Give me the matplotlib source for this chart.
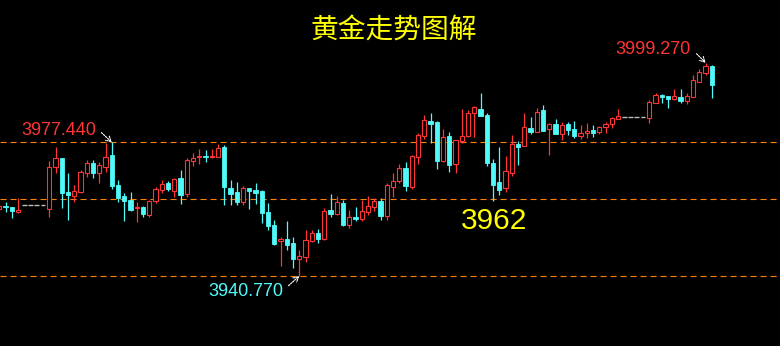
import numpy as np
import matplotlib.pyplot as plt

# gold candles (open, high, low, close)
opens = [3959.2, 3960.0, 3959.7, 3958.4, 3960.2, 3960.2, 3960.2, 3960.2, 3959.1, 3970.8,
         3973.1, 3963.7, 3962.8, 3963.9, 3969.1, 3971.7, 3969.1, 3970.8, 3974.0, 3965.7,
         3962.7, 3961.6, 3959.3, 3959.8, 3957.5, 3961.4, 3964.4, 3966.2, 3964.2, 3967.6,
         3963.3, 3972.4, 3973.3, 3973.6, 3973.3, 3973.5, 3976.1, 3964.8, 3963.7, 3961.2,
         3964.8, 3964.4, 3964.1, 3958.4, 3954.8, 3950.3, 3950.9, 3949.9, 3945.4, 3945.9,
         3950.5, 3952.5, 3950.9, 3958.9, 3957.8, 3960.9, 3954.8, 3957.0, 3956.4, 3958.4,
         3959.8, 3961.4, 3957.2, 3965.3, 3966.7, 3970.3, 3965.3, 3973.3, 3979.2, 3983.3,
         3983.0, 3972.4, 3979.2, 3971.4, 3977.9, 3979.2, 3985.4, 3986.6, 3985.0, 3971.7,
         3966.5, 3965.0, 3969.1, 3977.0, 3976.5, 3981.3, 3980.4, 3986.3, 3981.1, 3982.5,
         3979.7, 3982.5, 3981.0, 3979.2, 3979.9, 3980.9, 3980.4, 3981.6, 3982.4, 3983.8,
         3984.3, 3984.3, 3984.3, 3984.3, 3984.2, 3988.3, 3990.4, 3990.1, 3989.2, 3989.9,
         3988.8, 3990.0, 3994.1, 3996.5, 3998.4]
highs = [3960.5, 3961.2, 3959.7, 3962.2, 3960.2, 3960.2, 3960.2, 3960.2, 3972.3, 3976.1,
         3973.2, 3968.9, 3965.7, 3969.8, 3972.6, 3972.6, 3972.0, 3977.2, 3977.44, 3967.1,
         3963.5, 3963.9, 3961.2, 3960.0, 3961.6, 3965.3, 3967.1, 3966.8, 3967.7, 3969.8,
         3973.1, 3974.4, 3975.6, 3975.3, 3975.6, 3977.0, 3976.7, 3967.1, 3966.6, 3965.5,
         3964.9, 3966.4, 3964.4, 3960.9, 3956.1, 3951.6, 3955.9, 3951.6, 3947.9, 3953.4,
         3953.4, 3953.7, 3959.3, 3963.3, 3962.7, 3961.6, 3958.9, 3959.8, 3961.6, 3962.7,
         3962.1, 3962.1, 3966.4, 3969.1, 3971.5, 3972.0, 3974.0, 3979.9, 3984.9, 3985.6,
         3983.2, 3981.0, 3980.3, 3978.1, 3986.6, 3986.3, 3987.4, 3991.0, 3985.4, 3972.9,
         3976.2, 3973.7, 3979.5, 3977.8, 3985.4, 3984.5, 3986.8, 3987.7, 3982.6, 3983.8,
         3983.1, 3983.1, 3983.3, 3982.2, 3982.7, 3982.2, 3982.0, 3983.1, 3984.5, 3986.6,
         3984.3, 3984.3, 3984.3, 3984.3, 3989.0, 3990.9, 3990.7, 3990.2, 3992.1, 3992.1,
         3990.9, 3995.9, 3997.5, 3999.27, 3998.6]
lows = [3958.9, 3958.4, 3956.8, 3958.1, 3960.2, 3960.2, 3960.2, 3960.2, 3957.0, 3968.9,
        3959.3, 3956.1, 3961.2, 3963.6, 3968.0, 3967.6, 3966.4, 3969.4, 3964.6, 3961.2,
        3955.9, 3958.6, 3955.7, 3957.0, 3957.0, 3960.7, 3963.6, 3964.1, 3962.5, 3960.5,
        3962.5, 3971.0, 3971.4, 3972.1, 3973.1, 3973.4, 3960.2, 3960.2, 3960.2, 3960.2,
        3959.2, 3960.5, 3955.4, 3953.4, 3949.4, 3943.5, 3947.9, 3943.0, 3940.77, 3944.7,
        3950.2, 3949.9, 3950.6, 3957.0, 3957.6, 3954.6, 3953.9, 3955.9, 3955.9, 3957.5,
        3958.7, 3956.1, 3956.1, 3962.5, 3966.4, 3964.2, 3964.6, 3971.5, 3978.3, 3977.2,
        3970.1, 3971.9, 3969.4, 3969.1, 3977.2, 3979.0, 3979.0, 3984.6, 3971.0, 3961.4,
        3963.0, 3963.8, 3968.2, 3971.2, 3976.4, 3979.7, 3980.3, 3980.5, 3974.0, 3979.6,
        3978.1, 3979.5, 3978.5, 3978.4, 3978.5, 3978.8, 3979.7, 3979.9, 3981.3, 3983.7,
        3984.3, 3984.3, 3984.3, 3984.3, 3982.8, 3988.2, 3988.3, 3986.8, 3989.1, 3988.3,
        3987.9, 3989.9, 3994.0, 3995.9, 3989.7]
closes = [3960.0, 3959.6, 3958.6, 3958.9, 3960.2, 3960.2, 3960.2, 3960.2, 3970.8, 3973.1,
          3963.4, 3963.0, 3964.1, 3969.2, 3971.7, 3969.1, 3971.2, 3973.3, 3965.5, 3962.2,
          3961.4, 3958.9, 3959.8, 3957.8, 3961.4, 3964.6, 3965.9, 3964.6, 3967.4, 3963.0,
          3972.6, 3973.1, 3973.6, 3973.3, 3973.6, 3976.0, 3965.3, 3963.3, 3961.2, 3964.8,
          3964.1, 3963.6, 3958.1, 3954.5, 3949.6, 3950.9, 3949.3, 3945.4, 3946.3, 3950.6,
          3952.5, 3950.9, 3958.6, 3957.8, 3961.1, 3954.8, 3956.9, 3956.4, 3958.6, 3960.0,
          3961.4, 3957.2, 3965.7, 3966.7, 3970.3, 3965.5, 3973.7, 3979.4, 3983.5, 3982.5,
          3972.4, 3978.8, 3971.2, 3978.0, 3979.2, 3985.5, 3987.0, 3984.7, 3971.7, 3965.7,
          3964.4, 3969.6, 3976.9, 3976.2, 3981.6, 3980.4, 3985.8, 3980.6, 3982.4, 3979.7,
          3982.2, 3980.8, 3979.2, 3980.0, 3980.5, 3980.1, 3981.6, 3982.5, 3984.0, 3984.6,
          3984.3, 3984.3, 3984.3, 3984.3, 3988.6, 3990.4, 3989.9, 3989.4, 3990.1, 3988.8,
          3990.1, 3994.5, 3996.6, 3998.4, 3993.2]

levels = [3977.44, 3962.0, 3940.77]
title = "黄金走势图解"
mid_label = "3962"

RED = '#ff3434'
CYAN = '#50fafa'
ORANGE = '#ff8000'
GRAY = '#bdbdbd'

o = np.array(opens)
h = np.array(highs)
l = np.array(lows)
c = np.array(closes)
idx = np.arange(len(o))
flat = h == l
up = (c >= o) & ~flat
down = c < o

fig = plt.figure(figsize=(7.8, 3.46), dpi=100, facecolor='black')
ax = fig.add_axes([0, 0, 1, 1])
ax.set_facecolor('black')

for lv in levels:
    ax.axhline(lv, color=ORANGE, lw=0.8, ls=(0, (5.5, 3.5)), zorder=1)

# wicks
ax.vlines(idx[up], l[up], h[up], color=RED, lw=0.9, zorder=2)
ax.vlines(idx[down], l[down], h[down], color=CYAN, lw=0.9, zorder=2)

# bodies
w = 0.68
ax.bar(idx[up], np.maximum(c[up] - o[up], 0.2), bottom=o[up], width=w,
       facecolor='black', edgecolor=RED, linewidth=0.8, zorder=3)
ax.bar(idx[down], np.maximum(o[down] - c[down], 0.2), bottom=c[down], width=w,
       facecolor=CYAN, edgecolor=CYAN, linewidth=0.6, zorder=3)

# no-trade bars
ax.hlines(c[flat], idx[flat] - 0.37, idx[flat] + 0.37, color=GRAY, lw=1.0, zorder=2)

num_font = dict(family='Liberation Sans', fontsize=13)
arrow = dict(arrowstyle='->,head_length=0.35,head_width=0.2', color='white',
             lw=0.8, linestyle=(0, (1.5, 1)), shrinkA=0, shrinkB=0)

i_hi = int(np.argmax(h))
i_lo = int(np.argmin(l))
i_lv = 18

ax.annotate('', xy=(i_hi, h[i_hi]), xytext=(-6.5, 6.5), textcoords='offset points', arrowprops=arrow)
ax.annotate(f'{h[i_hi]:.3f}', xy=(i_hi, h[i_hi]), xytext=(-11, 9.5), textcoords='offset points',
            ha='right', va='center', color=RED, **num_font)

ax.annotate('', xy=(i_lv, h[i_lv]), xytext=(-7.5, 7), textcoords='offset points', arrowprops=arrow)
ax.annotate(f'{h[i_lv]:.3f}', xy=(i_lv, h[i_lv]), xytext=(-11, 8.6), textcoords='offset points',
            ha='right', va='center', color=RED, **num_font)

ax.annotate('', xy=(i_lo, l[i_lo]), xytext=(-7.8, -7), textcoords='offset points', arrowprops=arrow)
ax.annotate(f'{l[i_lo]:.3f}', xy=(i_lo, l[i_lo]), xytext=(-11.5, -11), textcoords='offset points',
            ha='right', va='center', color=CYAN, **num_font)

ax.text(0.591, 0.362, mid_label, transform=ax.transAxes, ha='left', va='center',
        color='#ffff00', family='Liberation Sans', fontsize=21.5)
ax.text(0.505, 0.912, title, transform=ax.transAxes, ha='center', va='center',
        color='#ffff00', family=['Noto Sans CJK SC', 'DejaVu Sans'], fontsize=20)

ax.set_xlim(0.112, 124.912)
ax.set_ylim(3921.57, 4016.47)
ax.set_xticks([])
ax.set_yticks([])
for s in ax.spines.values():
    s.set_visible(False)

fig.savefig('out.png', dpi=100, facecolor='black')
